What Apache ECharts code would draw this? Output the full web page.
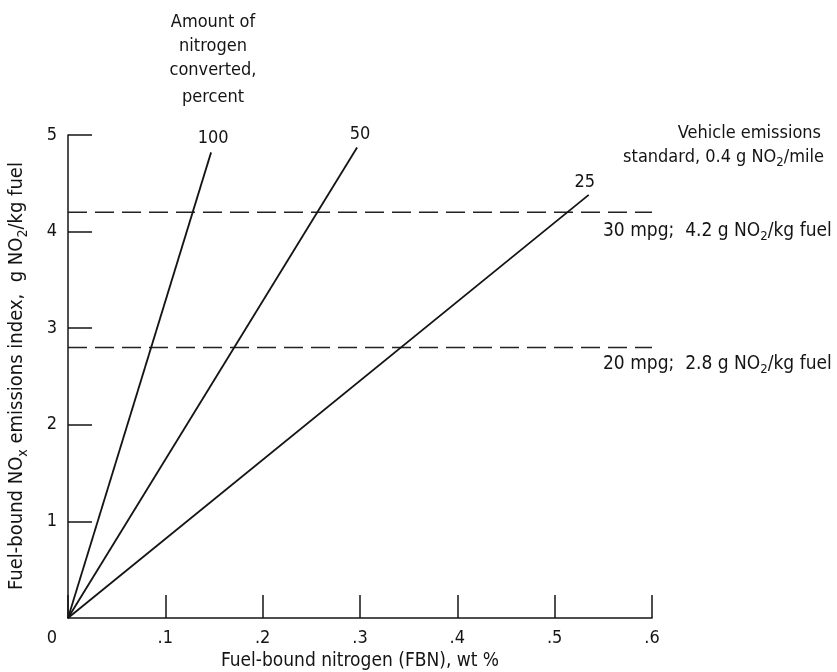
<!DOCTYPE html>
<html>
<head>
<meta charset="utf-8">
<script src="https://cdn.jsdelivr.net/npm/echarts@6/dist/echarts.min.js"></script>
<style>
html,body{margin:0;padding:0;background:#fff;}
#chart{width:837px;height:672px;}
</style>
</head>
<body>
<div id="chart"></div>
<script>
// ---- data ----
const xTicks = [0, 0.1, 0.2, 0.3, 0.4, 0.5, 0.6];
const yTicks = [0, 1, 2, 3, 4, 5];
const lineNames = ['100', '50', '25'];
const line100 = [[0, 0], [0.147, 4.82]];
const line50 = [[0, 0], [0.297, 4.87]];
const line25 = [[0, 0], [0.535, 4.38]];
const stdLevels = [4.2, 2.8];
const stdXRange = [0, 0.6];

const FONT = '"DejaVu Sans Condensed", "DejaVu Sans", sans-serif';
const INK = '#141414';

function lineSeries(name, data, labelOffset) {
  return {
    name: name,
    type: 'line',
    data: data.map(function (p, i) {
      const d = { value: p };
      if (i === data.length - 1) {
        d.label = {
          show: true, formatter: name, position: 'top', distance: 5,
          offset: labelOffset, color: INK, fontFamily: FONT, fontSize: 18
        };
      } else {
        d.label = { show: false };
      }
      return d;
    }),
    showSymbol: true, symbol: 'circle', symbolSize: 1,
    itemStyle: { color: 'rgba(0,0,0,0)', borderWidth: 0 },
    lineStyle: { color: INK, width: 1.8 },
    silent: true, animation: false, z: 3
  };
}

function dashSeries(level) {
  return {
    type: 'line',
    data: stdXRange.map(function (x) { return [x, level]; }),
    showSymbol: false, symbol: 'none',
    lineStyle: { color: '#222', width: 1.5, type: [19, 8] },
    silent: true, animation: false, z: 2
  };
}

function rich(size) {
  return {
    n: { fontSize: size, lineHeight: size + 6, fontFamily: FONT, fill: INK },
    s: { fontSize: Math.round(size * 0.7), lineHeight: Math.round(size * 0.7), verticalAlign: 'bottom', fontFamily: FONT, fill: INK }
  };
}

function txt(x, y, text, align, size, extra) {
  size = size || 18;
  const o = {
    type: 'text', x: x, y: y,
    style: {
      text: text, fill: INK, font: size + 'px ' + FONT,
      align: align || 'center', verticalAlign: 'middle',
      rich: rich(size)
    },
    silent: true
  };
  if (extra) Object.assign(o, extra);
  return o;
}

const chart = echarts.init(document.getElementById('chart'), null, { renderer: 'canvas' });
chart.setOption({
  backgroundColor: '#fff',
  animation: false,
  grid: { left: 68, right: 185, top: 135, bottom: 54, containLabel: false, outerBoundsMode: 'none' },
  xAxis: {
    type: 'value', min: 0, max: 0.6, interval: 0.1,
    axisLine: { show: true, lineStyle: { color: INK, width: 1.5 } },
    axisTick: { show: true, inside: true, length: 23, lineStyle: { color: INK, width: 1.5 } },
    splitLine: { show: false },
    axisLabel: {
      margin: 11, color: INK, fontFamily: FONT, fontSize: 18,
      formatter: function (v) {
        if (v === 0) return '{z|0}';
        return '.' + Math.round(v * 10);
      },
      rich: { z: { padding: [0, 32, 0, 0], fontFamily: FONT, fontSize: 18, color: INK } }
    },
    name: 'Fuel-bound nitrogen (FBN), wt %',
    nameLocation: 'middle', nameGap: 32,
    nameTextStyle: { color: INK, fontFamily: FONT, fontSize: 19 }
  },
  yAxis: {
    type: 'value', min: 0, max: 5, interval: 1,
    axisLine: { show: true, lineStyle: { color: INK, width: 1.5 } },
    axisTick: { show: true, inside: true, length: 24, lineStyle: { color: INK, width: 1.5 } },
    splitLine: { show: false },
    axisLabel: {
      margin: 11, color: INK, fontFamily: FONT, fontSize: 18,
      showMinLabel: false,
      formatter: function (v) { return v === 0 ? '' : String(v); }
    }
  },
  series: [
    dashSeries(stdLevels[0]),
    dashSeries(stdLevels[1]),
    lineSeries(lineNames[0], line100, [2, 0]),
    lineSeries(lineNames[1], line50, [3, 1]),
    lineSeries(lineNames[2], line25, [-4, 2])
  ],
  graphic: [
    txt(213, 22, 'Amount of'),
    txt(213, 46, 'nitrogen'),
    txt(213, 70, 'converted,'),
    txt(213, 97, 'percent'),
    txt(821, 133, 'Vehicle emissions', 'right'),
    txt(824, 157, '{n|standard, 0.4 g NO}{s|2}{n|/mile}', 'right'),
    txt(603, 231, '{n|30 mpg;  4.2 g NO}{s|2}{n|/kg fuel}', 'left', 19),
    txt(603, 364, '{n|20 mpg;  2.8 g NO}{s|2}{n|/kg fuel}', 'left', 19),
    txt(17, 376, '{n|Fuel-bound NO}{s|x}{n| emissions index,  g NO}{s|2}{n|/kg fuel}', 'center', 20,
        { rotation: Math.PI / 2 })
  ]
});
</script>
</body>
</html>
